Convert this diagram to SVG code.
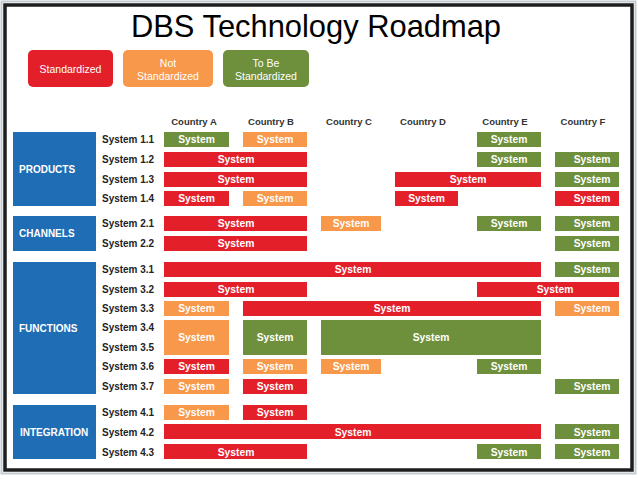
<svg xmlns="http://www.w3.org/2000/svg" width="638" height="479" viewBox="0 0 638 479">
<style>
.red{fill:#e3202a}
.org{fill:#f7984a}
.grn{fill:#6e8f3b}
.blu{fill:#1f6db5}
.bt{font-family:"Liberation Sans",Arial,sans-serif;font-size:10.3px;font-weight:bold;fill:#ffffff;text-anchor:middle}
.sl{font-family:"Liberation Sans",Arial,sans-serif;font-size:10.5px;font-weight:bold;fill:#222222}
.ch{font-family:"Liberation Sans",Arial,sans-serif;font-size:9.5px;font-weight:bold;fill:#333333;text-anchor:middle}
.cat{font-family:"Liberation Sans",Arial,sans-serif;font-size:10px;font-weight:bold;fill:#ffffff}
.lg{font-family:"Liberation Sans",Arial,sans-serif;font-size:10.5px;fill:#ffffff;text-anchor:middle}
</style>
<rect x="0" y="0" width="638" height="479" fill="#ffffff"/>
<rect x="1.5" y="1.5" width="634" height="472" fill="none" stroke="#c3ccd2" stroke-width="2"/>
<rect x="5" y="5" width="627" height="465" fill="#ffffff" stroke="#1e1e1e" stroke-width="3.5"/>
<text x="316" y="37" font-family="Liberation Sans,Arial,sans-serif" font-size="32" fill="#000000" text-anchor="middle" textLength="370" lengthAdjust="spacingAndGlyphs">DBS Technology Roadmap</text>

<g id="legend">
<g id="legend-standardized"><rect class="red" x="28" y="50" width="85" height="37" rx="5"/><text class="lg" x="70.5" y="72.5">Standardized</text></g>
<g id="legend-not-standardized"><rect class="org" x="123" y="50" width="90" height="37" rx="5"/><text class="lg" x="168" y="66.5">Not</text><text class="lg" x="168" y="80">Standardized</text></g>
<g id="legend-to-be-standardized"><rect class="grn" x="223" y="50" width="86" height="37" rx="5"/><text class="lg" x="266" y="66.5">To Be</text><text class="lg" x="266" y="80">Standardized</text></g>
</g>

<g id="headers">
<text class="ch" x="194" y="124.5">Country A</text>
<text class="ch" x="271" y="124.5">Country B</text>
<text class="ch" x="349" y="124.5">Country C</text>
<text class="ch" x="423" y="124.5">Country D</text>
<text class="ch" x="505" y="124.5">Country E</text>
<text class="ch" x="583" y="124.5">Country F</text>
</g>

<g id="categories">
<g id="cat-products"><rect class="blu" x="13" y="132" width="83" height="74"/><text class="cat" x="19" y="172.5">PRODUCTS</text></g>
<g id="cat-channels"><rect class="blu" x="13" y="216" width="83" height="35"/><text class="cat" x="19" y="237">CHANNELS</text></g>
<g id="cat-functions"><rect class="blu" x="13" y="262" width="83" height="132"/><text class="cat" x="19" y="331.5">FUNCTIONS</text></g>
<g id="cat-integration"><rect class="blu" x="13" y="405" width="83" height="54"/><text class="cat" x="20" y="436">INTEGRATION</text></g>
</g>

<g id="system-labels">
<text class="sl" x="102" y="143" textLength="52" lengthAdjust="spacingAndGlyphs">System 1.1</text>
<text class="sl" x="102" y="163" textLength="52" lengthAdjust="spacingAndGlyphs">System 1.2</text>
<text class="sl" x="102" y="183" textLength="52" lengthAdjust="spacingAndGlyphs">System 1.3</text>
<text class="sl" x="102" y="202" textLength="52" lengthAdjust="spacingAndGlyphs">System 1.4</text>
<text class="sl" x="102" y="227" textLength="52" lengthAdjust="spacingAndGlyphs">System 2.1</text>
<text class="sl" x="102" y="247" textLength="52" lengthAdjust="spacingAndGlyphs">System 2.2</text>
<text class="sl" x="102" y="273" textLength="52" lengthAdjust="spacingAndGlyphs">System 3.1</text>
<text class="sl" x="102" y="293" textLength="52" lengthAdjust="spacingAndGlyphs">System 3.2</text>
<text class="sl" x="102" y="312" textLength="52" lengthAdjust="spacingAndGlyphs">System 3.3</text>
<text class="sl" x="102" y="331" textLength="52" lengthAdjust="spacingAndGlyphs">System 3.4</text>
<text class="sl" x="102" y="351" textLength="52" lengthAdjust="spacingAndGlyphs">System 3.5</text>
<text class="sl" x="102" y="370" textLength="52" lengthAdjust="spacingAndGlyphs">System 3.6</text>
<text class="sl" x="102" y="390" textLength="52" lengthAdjust="spacingAndGlyphs">System 3.7</text>
<text class="sl" x="102" y="416" textLength="52" lengthAdjust="spacingAndGlyphs">System 4.1</text>
<text class="sl" x="102" y="435.5" textLength="52" lengthAdjust="spacingAndGlyphs">System 4.2</text>
<text class="sl" x="102" y="455.5" textLength="52" lengthAdjust="spacingAndGlyphs">System 4.3</text>
</g>

<g id="bars">
<g id="s11-a"><rect class="grn" x="164" y="132" width="65" height="15"/><text class="bt" x="196.5" y="143">System</text></g>
<g id="s11-b"><rect class="org" x="243" y="132" width="64" height="15"/><text class="bt" x="275" y="143">System</text></g>
<g id="s11-e"><rect class="grn" x="477" y="132" width="64" height="15"/><text class="bt" x="509" y="143">System</text></g>
<g id="s12-ab"><rect class="red" x="164" y="152" width="143" height="15"/><text class="bt" x="236" y="163">System</text></g>
<g id="s12-e"><rect class="grn" x="477" y="152" width="64" height="15"/><text class="bt" x="509" y="163">System</text></g>
<g id="s12-f"><rect class="grn" x="555" y="152" width="64" height="15"/><text class="bt" x="592" y="163">System</text></g>
<g id="s13-ab"><rect class="red" x="164" y="172" width="143" height="15"/><text class="bt" x="236" y="183">System</text></g>
<g id="s13-de"><rect class="red" x="395" y="172" width="146" height="15"/><text class="bt" x="468" y="183">System</text></g>
<g id="s13-f"><rect class="grn" x="555" y="172" width="64" height="15"/><text class="bt" x="592" y="183">System</text></g>
<g id="s14-a"><rect class="red" x="164" y="191" width="65" height="15"/><text class="bt" x="196.5" y="202">System</text></g>
<g id="s14-b"><rect class="org" x="243" y="191" width="64" height="15"/><text class="bt" x="275" y="202">System</text></g>
<g id="s14-d"><rect class="red" x="395" y="191" width="63" height="15"/><text class="bt" x="426.5" y="202">System</text></g>
<g id="s14-f"><rect class="red" x="555" y="191" width="64" height="15"/><text class="bt" x="592" y="202">System</text></g>
<g id="s21-ab"><rect class="red" x="164" y="216" width="143" height="15"/><text class="bt" x="236" y="227">System</text></g>
<g id="s21-c"><rect class="org" x="321" y="216" width="60" height="15"/><text class="bt" x="351" y="227">System</text></g>
<g id="s21-e"><rect class="grn" x="477" y="216" width="64" height="15"/><text class="bt" x="509" y="227">System</text></g>
<g id="s21-f"><rect class="grn" x="555" y="216" width="64" height="15"/><text class="bt" x="592" y="227">System</text></g>
<g id="s22-ab"><rect class="red" x="164" y="236" width="143" height="15"/><text class="bt" x="236" y="247">System</text></g>
<g id="s22-f"><rect class="grn" x="555" y="236" width="64" height="15"/><text class="bt" x="592" y="247">System</text></g>
<g id="s31-ae"><rect class="red" x="164" y="262" width="377" height="15"/><text class="bt" x="353" y="273">System</text></g>
<g id="s31-f"><rect class="grn" x="555" y="262" width="64" height="15"/><text class="bt" x="592" y="273">System</text></g>
<g id="s32-ab"><rect class="red" x="164" y="282" width="143" height="15"/><text class="bt" x="236" y="293">System</text></g>
<g id="s32-ef"><rect class="red" x="477" y="282" width="142" height="15"/><text class="bt" x="555" y="293">System</text></g>
<g id="s33-a"><rect class="org" x="164" y="301" width="65" height="15"/><text class="bt" x="196.5" y="312">System</text></g>
<g id="s33-be"><rect class="red" x="243" y="301" width="298" height="15"/><text class="bt" x="392" y="312">System</text></g>
<g id="s33-f"><rect class="org" x="555" y="301" width="64" height="15"/><text class="bt" x="592" y="312">System</text></g>
<g id="s345-a"><rect class="org" x="164" y="320" width="65" height="35"/><text class="bt" x="196.5" y="341">System</text></g>
<g id="s345-b"><rect class="grn" x="243" y="320" width="64" height="35"/><text class="bt" x="275" y="341">System</text></g>
<g id="s345-ce"><rect class="grn" x="321" y="320" width="220" height="35"/><text class="bt" x="431" y="341">System</text></g>
<g id="s36-a"><rect class="red" x="164" y="359" width="65" height="15"/><text class="bt" x="196.5" y="370">System</text></g>
<g id="s36-b"><rect class="org" x="243" y="359" width="64" height="15"/><text class="bt" x="275" y="370">System</text></g>
<g id="s36-c"><rect class="org" x="321" y="359" width="60" height="15"/><text class="bt" x="351" y="370">System</text></g>
<g id="s36-e"><rect class="grn" x="477" y="359" width="64" height="15"/><text class="bt" x="509" y="370">System</text></g>
<g id="s37-a"><rect class="org" x="164" y="379" width="65" height="15"/><text class="bt" x="196.5" y="390">System</text></g>
<g id="s37-b"><rect class="red" x="243" y="379" width="64" height="15"/><text class="bt" x="275" y="390">System</text></g>
<g id="s37-f"><rect class="grn" x="555" y="379" width="64" height="15"/><text class="bt" x="592" y="390">System</text></g>
<g id="s41-a"><rect class="org" x="164" y="405" width="65" height="15"/><text class="bt" x="196.5" y="416">System</text></g>
<g id="s41-b"><rect class="red" x="243" y="405" width="64" height="15"/><text class="bt" x="275" y="416">System</text></g>
<g id="s42-ae"><rect class="red" x="164" y="424" width="377" height="15"/><text class="bt" x="353" y="435.5">System</text></g>
<g id="s42-f"><rect class="grn" x="555" y="424" width="64" height="15"/><text class="bt" x="592" y="435.5">System</text></g>
<g id="s43-ab"><rect class="red" x="164" y="444" width="143" height="15"/><text class="bt" x="236" y="455.5">System</text></g>
<g id="s43-e"><rect class="grn" x="477" y="444" width="64" height="15"/><text class="bt" x="509" y="455.5">System</text></g>
<g id="s43-f"><rect class="grn" x="555" y="444" width="64" height="15"/><text class="bt" x="592" y="455.5">System</text></g>
</g>

<g id="connectors"></g>
</svg>
